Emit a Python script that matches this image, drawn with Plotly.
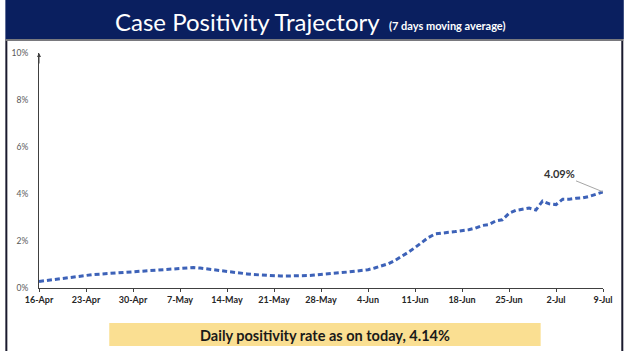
import plotly.graph_objects as go
import pandas as pd

# ---- data (7-day moving average positivity, %) ----
start_date = "2020-04-16"
positivity = [
    0.28, 0.32, 0.36, 0.40, 0.44, 0.48, 0.51,   # 16-22 Apr
    0.54, 0.57, 0.59, 0.61, 0.63, 0.65, 0.67,   # 23-29 Apr
    0.69, 0.71, 0.73, 0.75, 0.78, 0.80, 0.82,   # 30 Apr - 6 May
    0.84, 0.86, 0.87, 0.85, 0.81, 0.77, 0.73,   # 7-13 May
    0.69, 0.66, 0.63, 0.60, 0.57, 0.55, 0.53,   # 14-20 May
    0.52, 0.51, 0.51, 0.51, 0.52, 0.53, 0.55,   # 21-27 May
    0.57, 0.59, 0.62, 0.65, 0.68, 0.71, 0.74,   # 28 May - 3 Jun
    0.78, 0.85, 0.93, 1.03, 1.17, 1.33, 1.52,   # 4-10 Jun
    1.72, 1.93, 2.15, 2.30, 2.35, 2.37, 2.40,   # 11-17 Jun
    2.43, 2.48, 2.55, 2.66, 2.70, 2.85, 2.90,   # 18-24 Jun
    3.18, 3.30, 3.35, 3.40, 3.32, 3.70, 3.58,   # 25 Jun - 1 Jul
    3.55, 3.78, 3.78, 3.82, 3.84, 3.90, 4.00,   # 2-8 Jul
    4.09,                                       # 9 Jul
]
dates = pd.date_range(start_date, periods=len(positivity), freq="D")
tick_dates = pd.date_range(start_date, periods=13, freq="7D")
tick_labels = [d.strftime("%-d-%b") for d in tick_dates]
y_ticks = [0, 2, 4, 6, 8, 10]
y_tick_labels = [f"{v}%" for v in y_ticks]
last_label = "4.09%"
title_main = "Case Positivity Trajectory"
title_sub = "(7 days moving average)"
footer_text = "Daily positivity rate as on today, 4.14%"

W, H = 625, 351
L, R, T, B = 34, 604, 53, 288  # plot area pixel bounds


def px(x):
    return (x - L) / (R - L)


def py(y):
    return (B - y) / (B - T)


fig = go.Figure()
fig.add_trace(go.Scatter(
    x=dates, y=positivity, mode="lines",
    line=dict(color="#3d62b8", width=3, dash="5px,3px"),
    hoverinfo="skip", showlegend=False,
))

shapes = [
    # title bar
    dict(type="rect", xref="paper", yref="paper", x0=px(0), x1=px(W), y0=py(39), y1=py(0),
         fillcolor="#0a1f5f", line=dict(width=0), layer="below"),
    # slide frame
    dict(type="rect", xref="paper", yref="paper", x0=px(1), x1=px(W - 1.5), y0=py(H + 2), y1=py(40),
         fillcolor="rgba(0,0,0,0)", line=dict(color="#1a1a2e", width=2), layer="below"),
    dict(type="line", xref="paper", yref="paper", x0=px(0), x1=px(W), y0=py(40), y1=py(40),
         line=dict(color="#9a9a9a", width=1.5)),
    # footer box
    dict(type="rect", xref="paper", yref="paper", x0=px(105), x1=px(541), y0=py(346), y1=py(323),
         fillcolor="#fadf92", line=dict(width=0), layer="below"),
]

annotations = [
    dict(xref="paper", yref="paper", x=px(381), y=py(22), text=title_main, showarrow=False,
         xanchor="right", yanchor="middle",
         font=dict(family="Lato", size=24, color="white")),
    dict(xref="paper", yref="paper", x=px(386), y=py(25), text=f"<b>{title_sub}</b>", showarrow=False,
         xanchor="left", yanchor="middle",
         font=dict(family="Lato", size=11, color="white")),
    dict(x=dates[-1], y=positivity[-1], xref="x", yref="y", text=f"<b>{last_label}</b>",
         showarrow=True, arrowhead=0, arrowwidth=1, arrowcolor="#a6a6a6",
         ax=-44, ay=-18, font=dict(family="Lato", size=11, color="#333333")),
    dict(xref="paper", yref="paper", x=px(323), y=py(335), text=f"<b>{footer_text}</b>", showarrow=False,
         xanchor="center", yanchor="middle",
         font=dict(family="Lato", size=14.5, color="#1a1a1a")),
    # y-axis arrow head
    dict(xref="paper", yref="paper", x=0, y=1.0, ax=0, ay=12, showarrow=True, arrowhead=2,
         arrowsize=0.8, arrowwidth=1, arrowcolor="#404040", text=""),
]

fig.update_layout(
    width=W, height=H,
    margin=dict(l=L, r=W - R, t=T, b=H - B, pad=0),
    paper_bgcolor="white", plot_bgcolor="white",
    shapes=shapes, annotations=annotations,
    xaxis=dict(
        range=[dates[0], dates[-1]], tickmode="array", tickvals=tick_dates,
        ticktext=[f"<b>{t}</b>" for t in tick_labels],
        showgrid=False, zeroline=False, showline=True, linecolor="#404040", linewidth=1,
        ticks="outside", ticklen=3, tickcolor="#404040",
        tickfont=dict(family="Lato", size=9, color="#262626"),
    ),
    yaxis=dict(
        range=[0, 10], tickmode="array", tickvals=y_ticks, ticktext=y_tick_labels,
        showgrid=False, zeroline=False, showline=True, linecolor="#404040", linewidth=1,
        ticks="", ticklabelstandoff=8,
        tickfont=dict(family="Lato", size=8.5, color="#595959"),
    ),
)

fig.write_html("out.html")
